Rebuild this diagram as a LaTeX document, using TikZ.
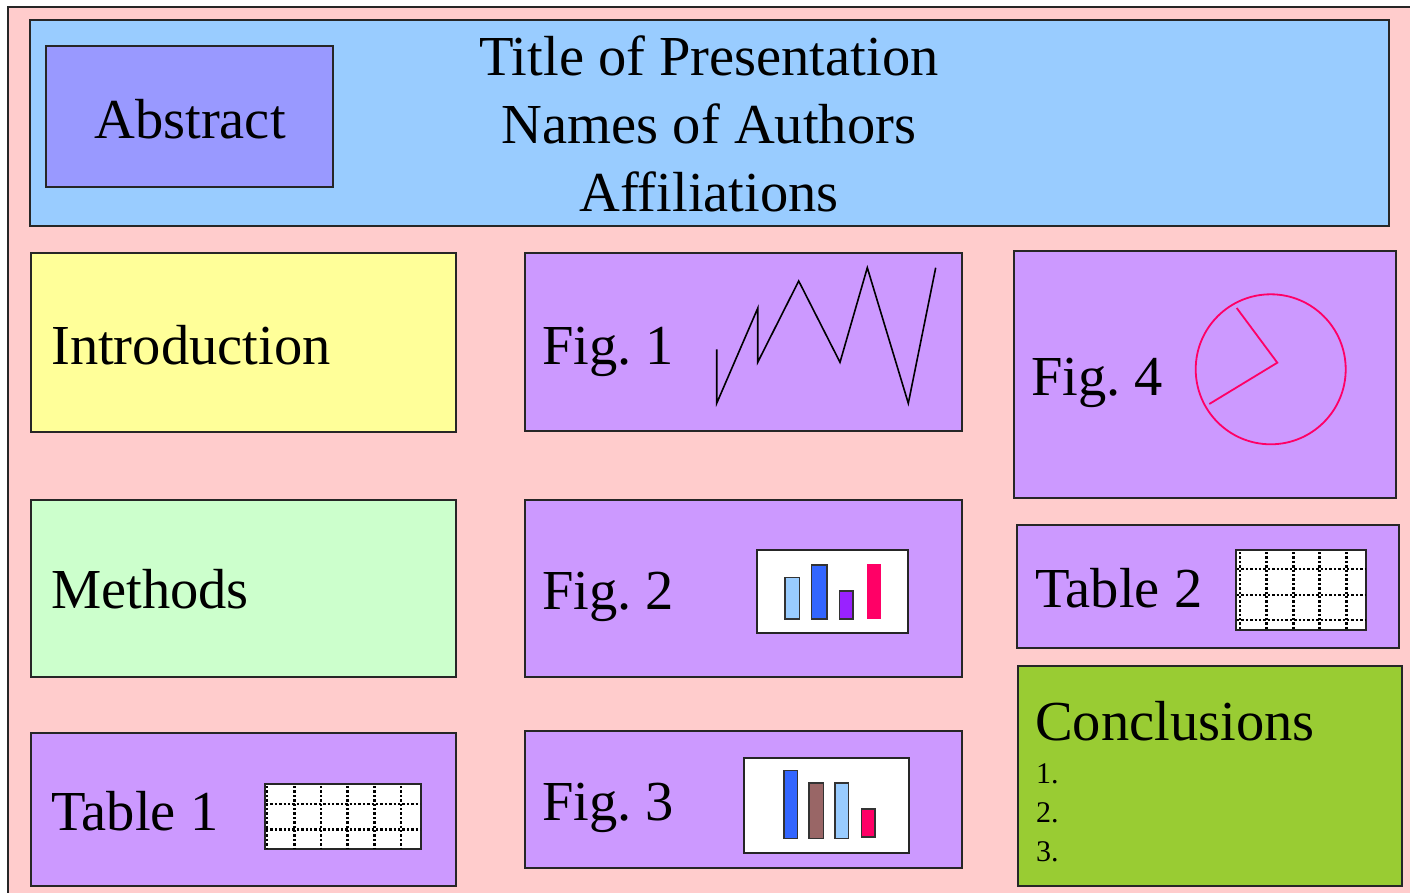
\documentclass[tikz,border=0pt]{standalone}
\usepackage{fontspec}
\setmainfont{Liberation Serif}
\definecolor{bgpink}{HTML}{FFCCCC}
\definecolor{hdrblue}{HTML}{99CCFF}
\definecolor{absblue}{HTML}{9999FF}
\definecolor{yel}{HTML}{FFFF99}
\definecolor{mint}{HTML}{CCFFCC}
\definecolor{lilac}{HTML}{CC99FF}
\definecolor{lime}{HTML}{99CC33}
\definecolor{hotpink}{HTML}{FF0066}
\definecolor{barblue}{HTML}{3366FF}
\definecolor{barpurple}{HTML}{9922FF}
\definecolor{barbrown}{HTML}{996666}
\tikzset{
  box/.style={draw=black!85, line width=1.7pt},
  lbl/.style={font=\fontsize{56.5}{60}\selectfont, inner sep=0pt},
  small/.style={font=\fontsize{30}{34}\selectfont, inner sep=0pt},
  bar/.style={draw=black!80, line width=1.5pt},
  frame/.style={draw=black!85, fill=white, line width=1.7pt},
  griddot/.style={line width=2.6pt, dash pattern=on 2.4pt off 2pt},
  zig/.style={line width=1.6pt, line join=miter},
  clock/.style={draw=hotpink, line width=1.8pt}
}
\begin{document}
\begin{tikzpicture}[x=1pt, y=-1pt]
\useasboundingbox (0,0) rectangle (1410,893);
\begin{scope}
\clip (0,0) rectangle (1410,893);
\path[box, fill=bgpink] (8,7) rectangle (1430,910);
\end{scope}
% header
\path[box, fill=hdrblue] (30,20) rectangle (1389,226);
\path[box, fill=absblue] (46,46) rectangle (333,187);
\node[lbl, anchor=base] (abs) at (190,139) {Abstract};
\node[lbl, anchor=base] (title) at (709,76) {Title of Presentation};
\node[lbl, anchor=base] (authors) at (709,144) {Names of Authors};
\node[lbl, anchor=base] (affil) at (709,212) {Affiliations};
% left column
\path[box, fill=yel] (31,253) rectangle (456,432);
\node[lbl, anchor=base west] (intro) at (51,364) {Introduction};
\path[box, fill=mint] (31,500) rectangle (456,677);
\node[lbl, anchor=base west] (meth) at (51,608) {Methods};
\path[box, fill=lilac] (31,733) rectangle (456,886);
\node[lbl, anchor=base west] (tab1) at (51,830) {Table 1};
\path[frame] (265.3,784.3) rectangle (421,849.3);
\foreach \x in {267,294.3,321,347.7,374.3,401}
  \draw[griddot] (\x,786) -- (\x,848);
\foreach \y in {804,829.3}
  \draw[griddot] (266,\y) -- (420,\y);
% middle column
\path[box, fill=lilac] (525,253) rectangle (962,431);
\node[lbl, anchor=base west] (fig1) at (542,364) {Fig.~1};
\draw[zig] (716.7,349.3) -- (716.7,403.3) -- (757.7,308.3) -- (757.7,362.3) -- (798.7,281)
  -- (840,362.3) -- (867.3,267.7) -- (908.3,403.3) -- (935.7,267.7);
\path[box, fill=lilac] (525,500) rectangle (962,677);
\node[lbl, anchor=base west] (fig2) at (542,609) {Fig.~2};
\path[frame] (757.3,550) rectangle (908.3,633.3);
\path[bar, fill=hdrblue] (785,577.7) rectangle (799.3,619);
\path[bar, fill=barblue] (811.7,565) rectangle (827,619);
\path[bar, fill=barpurple] (839.3,591) rectangle (853,619);
\path[fill=hotpink] (866.7,564.3) rectangle (881,619);
\path[box, fill=lilac] (525,731) rectangle (962,868);
\node[lbl, anchor=base west] (fig3) at (542,820) {Fig.~3};
\path[frame] (744,757.7) rectangle (909,853.3);
\path[bar, fill=barblue] (784,770.7) rectangle (797.7,838.3);
\path[bar, fill=barbrown] (809,783) rectangle (823.7,838.3);
\path[bar, fill=hdrblue] (835,783) rectangle (848.7,838.3);
\path[bar, fill=hotpink] (861.7,809) rectangle (875,837);
% right column
\path[box, fill=lilac] (1014,251) rectangle (1396,498);
\node[lbl, anchor=base west] (fig4) at (1031,395) {Fig.~4};
\draw[clock] (1270.7,369.3) circle[radius=75];
\coordinate (hub) at (1277.3,362.7);
\coordinate (hand1) at (1236.7,308);
\coordinate (hand2) at (1209.3,404);
\draw[clock] (hand1) -- (hub) -- (hand2);
\path[box, fill=lilac] (1017,525) rectangle (1399,648);
\node[lbl, anchor=base west] (tab2) at (1035,607) {Table 2};
\path[frame] (1236,550) rectangle (1366,630);
\foreach \x in {1240,1266.7,1293.3,1319.3,1346.7}
  \draw[griddot] (\x,552) -- (\x,629);
\foreach \y in {569,595,620}
  \draw[griddot] (1237,\y) -- (1365,\y);
\path[box, fill=lime] (1018,666) rectangle (1402,886);
\node[lbl, anchor=base west] (concl) at (1035,740) {Conclusions};
\node[small, anchor=base west] (c1) at (1036,783) {1.};
\node[small, anchor=base west] (c2) at (1036,822) {2.};
\node[small, anchor=base west] (c3) at (1036,861) {3.};
\end{tikzpicture}
\end{document}
